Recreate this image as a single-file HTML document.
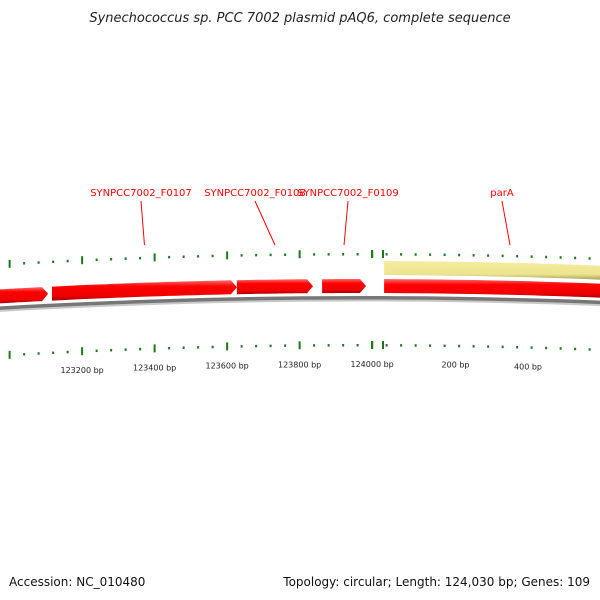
<!DOCTYPE html>
<html><head><meta charset="utf-8"><style>
body{margin:0;background:#fff;}
svg{display:block;font-family:"DejaVu Sans","Liberation Sans",sans-serif;}
</style></head><body>
<svg id="c" width="600" height="600" viewBox="0 0 600 600">
<defs>
<linearGradient id="rg" x1="0" y1="0" x2="0" y2="1"><stop offset="0" stop-color="#ff6a6a"/><stop offset="0.3" stop-color="#ff0000"/><stop offset="0.75" stop-color="#f00000"/><stop offset="1" stop-color="#b00000"/></linearGradient>
<linearGradient id="yg" x1="0" y1="0" x2="0" y2="1"><stop offset="0" stop-color="#f5ec9e"/><stop offset="0.7" stop-color="#ece48f"/><stop offset="1" stop-color="#a89e5a"/></linearGradient>
</defs>
<text x="300" y="22" text-anchor="middle" font-size="13" font-style="italic" fill="#222">Synechococcus sp. PCC 7002 plasmid pAQ6, complete sequence</text>
<text x="9" y="586" font-size="12" fill="#111">Accession: NC_010480</text>
<text x="590" y="586" text-anchor="end" font-size="12" fill="#111">Topology: circular; Length: 124,030 bp; Genes: 109</text>
<g id="g"></g>
</svg>
<script>
const genomeLen = 124030;
const geneNames = ["g1","SYNPCC7002_F0107","SYNPCC7002_F0108","SYNPCC7002_F0109","parA"];
const geneStarts = [122973,123117,123627,123862,3];
const geneEnds = [123106,123627,123837,123983,700];
const labelTexts = ["","SYNPCC7002_F0107","SYNPCC7002_F0108","SYNPCC7002_F0109","parA"];
const labelX = [0,141,255,348,502];
const domainStarts = [3];
const domainEnds = [700];
const tickLabels = ["123200 bp","123400 bp","123600 bp","123800 bp","124000 bp","200 bp","400 bp"];
const tickLabelBp = [123200,123400,123600,123800,124000,200,400];

const NS="http://www.w3.org/2000/svg";
const g=document.getElementById('g');
function xOf(bp){ if(bp>genomeLen/2) bp-=genomeLen; return 383+bp*0.3625; }
function cv(x){ return 8e-5*(x-360)*(x-360); }
function mk(t,a){const e=document.createElementNS(NS,t);for(const k in a)e.setAttribute(k,a[k]);g.appendChild(e);return e;}
function band(x1,x2,t,b,arrow){
  x1=Math.max(x1,-5);x2=Math.min(x2,610);
  let top=[],bot=[];const n=20;
  const xe=arrow?x2-6:x2;
  for(let i=0;i<=n;i++){const x=x1+(xe-x1)*i/n;top.push([x,t+cv(x)]);bot.push([x,b+cv(x)]);}
  let d="M"+top.map(p=>p[0].toFixed(1)+","+p[1].toFixed(1)).join("L");
  if(arrow) d+="L"+x2.toFixed(1)+","+((t+b)/2+cv(x2)).toFixed(1);
  d+="L"+bot.reverse().map(p=>p[0].toFixed(1)+","+p[1].toFixed(1)).join("L")+"Z";
  return d;
}
// backbone
let e=mk('path',{d:band(-5,610,298.5,301.5,false),fill:'#c8c8c8'});


e=mk('path',{d:band(-5,610,296,299.5,false),fill:'#777'});


// domains
for(let i=0;i<domainStarts.length;i++){
  e=mk('path',{d:band(xOf(domainStarts[i]),xOf(domainEnds[i]),261,275,false),fill:'url(#yg)'});
  
  
}
// genes
for(let i=0;i<geneNames.length;i++){
  const x1=xOf(geneStarts[i]),x2=xOf(geneEnds[i]);
  e=mk('path',{d:band(x1,x2,279,293,x2<600),fill:'url(#rg)'});
  
  
}
// labels
for(let i=0;i<geneNames.length;i++){
  if(!labelTexts[i]) continue;
  const gx=(xOf(geneStarts[i])+xOf(geneEnds[i]))/2;
  const tx=labelX[i];
  e=mk('line',{x1:tx,y1:201,x2:Math.min(gx,510),y2:245,stroke:'#f00','stroke-width':1});
  
  
  e=mk('text',{x:tx,y:196,'text-anchor':'middle','font-size':10,fill:'#f00'});
  e.textContent=labelTexts[i];
  
  
}
// ticks
for(let bp=122960;bp<=genomeLen+700;bp+=40){
  const b=bp%genomeLen;const x=xOf(b);
  if(x<0||x>600) continue;
  const major=b%200===0;
  for(const [yc,name] of [[254,'top'],[345,'bottom']]){
    const y=yc+cv(x);
    e=mk('rect',{x:x-1,y:major?y-4:y-1,width:major?2:2,height:major?8:2.5,fill:'#1a7a1a'});
    
    
  }
}
for(const b of [0,124000]){const x=xOf(b);for(const yc of [254,345]){const y=yc+cv(x);
  e=mk('rect',{x:x-1,y:y-4,width:2,height:8,fill:'#1a7a1a'});
  
  }}
for(let i=0;i<tickLabels.length;i++){
  const x=xOf(tickLabelBp[i]);
  e=mk('text',{x:x,y:367+cv(x),'text-anchor':'middle','font-size':8,fill:'#222'});
  e.textContent=tickLabels[i];
  
  
}
</script>
</body></html>
